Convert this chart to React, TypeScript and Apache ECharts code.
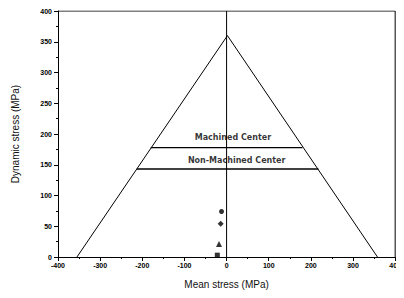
import React, { useEffect, useRef } from "react";
import * as echarts from "echarts";

const triangle: [number, number][] = [[-355, 0], [2, 360], [358, 0]];
const machinedLine: [number, number][] = [[-180, 178], [180, 178]];
const nonMachinedLine: [number, number][] = [[-213, 143], [218, 143]];
const zeroLine: [number, number][] = [[0, 0], [0, 400]];
const circlePts: [number, number][] = [[-12, 74]];
const diamondPts: [number, number][] = [[-14, 54]];
const trianglePts: [number, number][] = [[-18, 21]];
const squarePts: [number, number][] = [[-22, 3]];
const labels = [
  { text: "Machined Center", x: 15, y: 194 },
  { text: "Non-Machined Center", x: 24, y: 157 },
];

export default function App() {
  const ref = useRef<HTMLDivElement>(null);
  useEffect(() => {
    const chart = echarts.init(ref.current!, null, { renderer: "svg" });
    const lineStyle = { color: "#000", width: 1 };
    const lineSeries = (data: [number, number][], width = 1) => ({
      type: "line",
      data,
      symbol: "none",
      lineStyle: { color: "#000", width },
      silent: true,
    });
    const scatter = (data: [number, number][], symbol: string, size: number) => ({
      type: "scatter",
      data,
      symbol,
      symbolSize: size,
      itemStyle: { color: "#000" },
    });
    const axisLabel = {
      fontFamily: "Liberation Sans",
      fontSize: 7,
      fontWeight: "bold",
      color: "#000",
    };
    chart.setOption({
      animation: false,
      backgroundColor: "#fff",
      grid: { left: 58, right: 7, top: 11, bottom: 41, show: false },
      xAxis: {
        type: "value",
        min: -400,
        max: 400,
        interval: 100,
        name: "Mean stress (MPa)",
        nameLocation: "middle",
        nameGap: 22,
        nameTextStyle: { fontFamily: "Liberation Sans", fontSize: 10, color: "#111" },
        axisLine: { show: true, onZero: false, lineStyle },
        axisTick: { show: true, length: 4, lineStyle },
        minorTick: { show: true, splitNumber: 2, length: 2, lineStyle },
        splitLine: { show: false },
        axisLabel: { ...axisLabel, margin: 5 },
      },
      yAxis: {
        type: "value",
        min: 0,
        max: 400,
        interval: 50,
        name: "Dynamic stress (MPa)",
        nameLocation: "middle",
        nameGap: 38,
        nameTextStyle: { fontFamily: "Liberation Sans", fontSize: 10, color: "#111" },
        axisLine: { show: true, onZero: false, lineStyle },
        axisTick: { show: true, length: 4, lineStyle },
        minorTick: { show: true, splitNumber: 2, length: 2, lineStyle },
        splitLine: { show: false },
        axisLabel: { ...axisLabel, margin: 6 },
      },
      series: [
        lineSeries(triangle),
        lineSeries(machinedLine, 1.2),
        lineSeries(nonMachinedLine, 1.5),
        lineSeries(zeroLine),
        lineSeries([[-400, 400], [400, 400]]),
        lineSeries([[400, 0], [400, 400]]),
        scatter(circlePts, "circle", 5),
        scatter(diamondPts, "diamond", 6),
        scatter(trianglePts, "triangle", 6),
        scatter(squarePts, "rect", 5),
        {
          type: "scatter",
          data: labels.map((l) => ({ value: [l.x, l.y], name: l.text })),
          symbolSize: 0,
          silent: true,
          itemStyle: { color: "#000" },
          label: {
            show: true,
            position: "inside",
            formatter: (p: any) => p.name,
            fontFamily: "DejaVu Sans",
            fontSize: 8,
            fontWeight: "bold",
            color: "#000",
            textBorderWidth: 0,
            textBorderColor: "transparent",
          },
        },
      ],
    });
    return () => chart.dispose();
  }, []);
  return <div ref={ref} style={{ width: 404, height: 298, margin: -8 }} />;
}
